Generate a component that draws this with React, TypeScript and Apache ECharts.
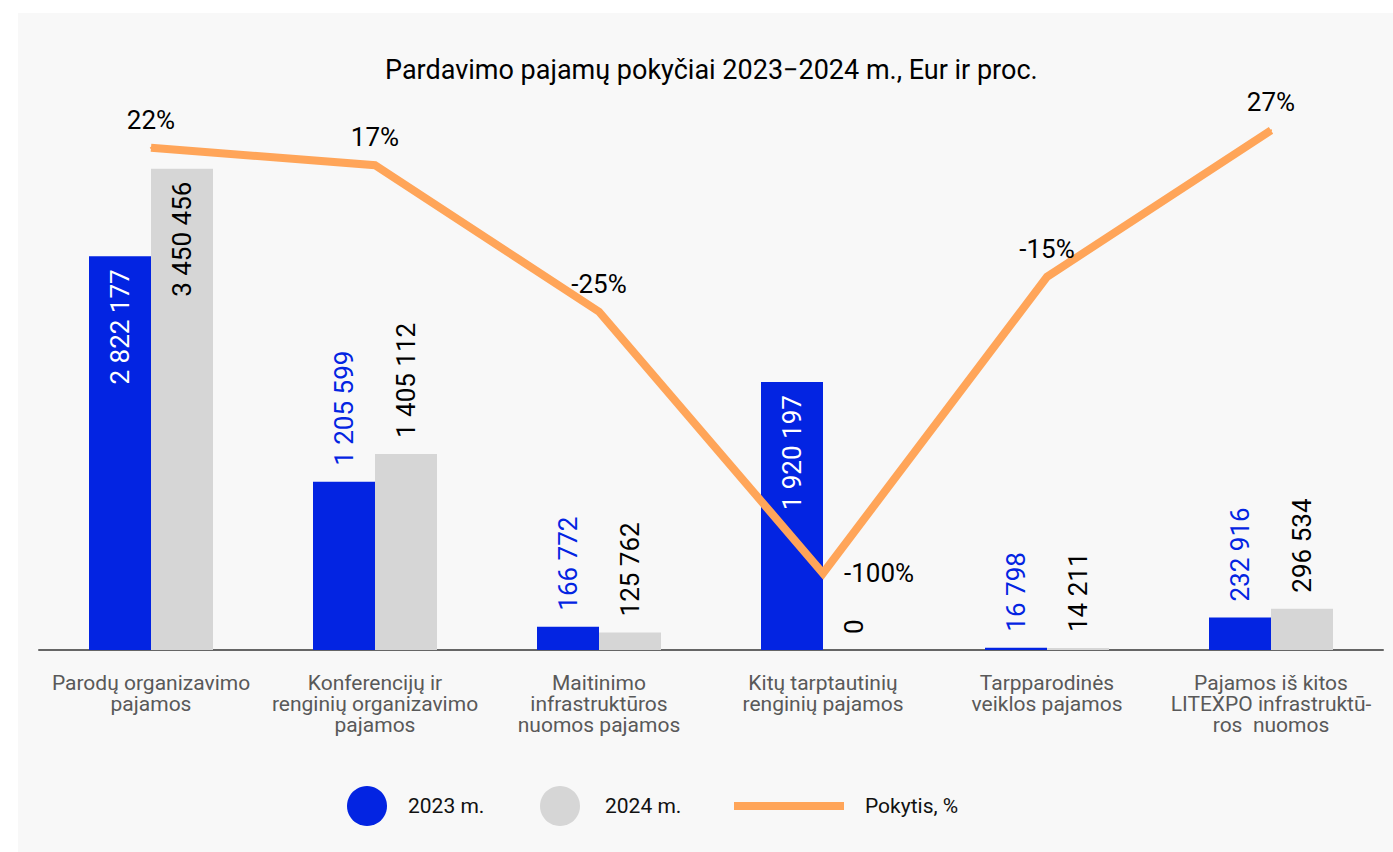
import React, { useEffect, useRef } from "react";
import * as echarts from "echarts";

const categories = [
  "Parodų organizavimo\npajamos",
  "Konferencijų ir\nrenginių organizavimo\npajamos",
  "Maitinimo\ninfrastruktūros\nnuomos pajamos",
  "Kitų tarptautinių\nrenginių pajamos",
  "Tarpparodinės\nveiklos pajamos",
  "Pajamos iš kitos\nLITEXPO infrastruktū-\nros  nuomos",
];
const revenue2023 = [2822177, 1205599, 166772, 1920197, 16798, 232916];
const revenue2024 = [3450456, 1405112, 125762, 0, 14211, 296534];
const changePct = [22, 17, -25, -100, -15, 27];

const BLUE = "#0324e2";
const GREY = "#d6d6d6";
const ORANGE = "#ffa559";
const FONT = "Roboto";

const fmt = (v: number) => String(v).replace(/\B(?=(\d{3})+(?!\d))/g, " ");

const insideLabel = (color: string) => ({
  position: "insideTop",
  rotate: 90,
  align: "right",
  verticalAlign: "middle",
  distance: 13,
  color,
});
const outsideLabel = (color: string) => ({
  position: "top",
  rotate: 90,
  align: "left",
  verticalAlign: "middle",
  distance: 16,
  color,
});

export default function App() {
  const ref = useRef<HTMLDivElement>(null);
  useEffect(() => {
    if (!ref.current) return;
    const chart = echarts.init(ref.current, null, { renderer: "svg" });
    const minPct = Math.min(...changePct);
    chart.setOption({
      animation: false,
      textStyle: { fontFamily: FONT },
      title: {
        text: "Pardavimo pajamų pokyčiai 2023−2024 m., Eur ir proc.",
        left: 362,
        top: 38,
        textStyle: { fontFamily: FONT, fontSize: 27, fontWeight: "normal", color: "#000" },
      },
      legend: [
        {
          data: ["2023 m."],
          left: 329,
          top: 773,
          padding: 0,
          icon: "circle",
          itemWidth: 40,
          itemHeight: 40,
          textStyle: { fontFamily: FONT, fontSize: 21, color: "#111", padding: [0, 0, 0, 16] },
        },
        {
          data: ["2024 m."],
          left: 522,
          top: 773,
          padding: 0,
          icon: "circle",
          itemWidth: 40,
          itemHeight: 40,
          textStyle: { fontFamily: FONT, fontSize: 21, color: "#111", padding: [0, 0, 0, 20] },
        },
        {
          data: ["Pokytis, %"],
          left: 716,
          top: 782.5,
          padding: 0,
          icon: "rect",
          itemWidth: 110,
          itemHeight: 8,
          textStyle: { fontFamily: FONT, fontSize: 21, color: "#111", padding: [0, 0, 0, 16] },
        },
      ],
      grid: { left: 21, right: 10, top: 72, bottom: 202 },
      xAxis: {
        type: "category",
        data: categories,
        boundaryGap: true,
        axisTick: { show: false },
        axisLine: { lineStyle: { color: "#666", width: 2 } },
        axisLabel: {
          interval: 0,
          margin: 22,
          fontFamily: FONT,
          fontSize: 21,
          lineHeight: 21,
          color: "#595959",
        },
      },
      yAxis: [
        { type: "value", min: 0, max: 4050000, show: false, splitLine: { show: false } },
        { type: "value", min: -122, max: 40, show: false, splitLine: { show: false } },
      ],
      series: [
        {
          name: "2023 m.",
          type: "bar",
          barWidth: 62,
          barGap: "0%",
          itemStyle: { color: BLUE },
          label: {
            show: true,
            fontFamily: FONT,
            fontSize: 26,
            formatter: (p: any) => fmt(p.value),
          },
          data: revenue2023.map((v) => ({
            value: v,
            label: v > 1500000 ? insideLabel("#fff") : outsideLabel(BLUE),
          })),
        },
        {
          name: "2024 m.",
          type: "bar",
          barWidth: 62,
          barGap: "0%",
          itemStyle: { color: GREY },
          label: {
            show: true,
            fontFamily: FONT,
            fontSize: 26,
            formatter: (p: any) => fmt(p.value),
          },
          data: revenue2024.map((v) => ({
            value: v,
            label: v > 1500000 ? insideLabel("#000") : outsideLabel("#000"),
          })),
        },
        {
          name: "Pokytis, %",
          type: "line",
          yAxisIndex: 1,
          z: 5,
          symbol: "circle",
          symbolSize: 2,
          itemStyle: { color: ORANGE },
          lineStyle: { color: ORANGE, width: 8, join: "miter" },
          label: {
            show: true,
            position: "top",
            distance: 14,
            fontFamily: FONT,
            fontSize: 26,
            color: "#000",
            formatter: (p: any) => `${p.value}%`,
          },
          data: changePct.map((v) =>
            v === minPct
              ? { value: v, label: { position: "right", distance: 20 } }
              : v
          ),
        },
      ],
    });
    return () => chart.dispose();
  }, []);
  return (
    <div style={{ position: "fixed", left: 0, top: 0, width: 1393, height: 852, background: "#fff" }}>
      <div
        ref={ref}
        style={{ position: "absolute", left: 18, top: 13, width: 1375, height: 839, background: "#f8f8f8" }}
      />
    </div>
  );
}
